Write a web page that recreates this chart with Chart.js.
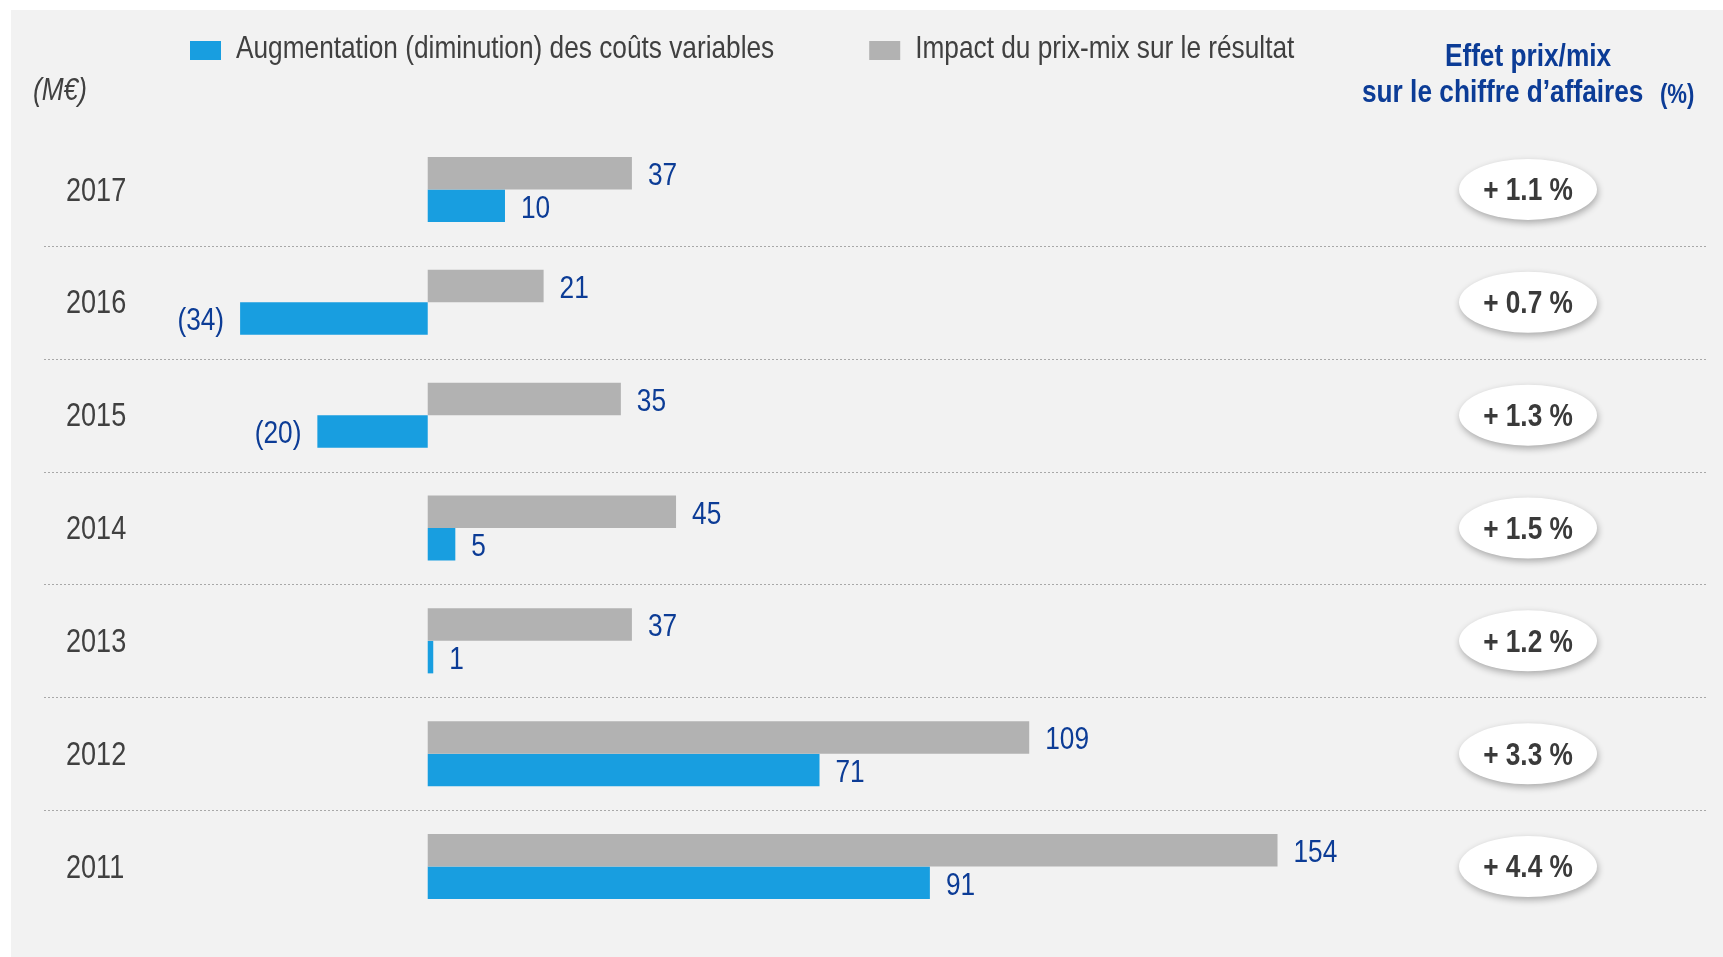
<!DOCTYPE html>
<html>
<head>
<meta charset="utf-8">
<script src="https://cdn.jsdelivr.net/npm/chart.js@4/dist/chart.umd.min.js"></script>
<style>
  body { margin: 0; background: #ffffff; }
  canvas { display: block; }
</style>
</head>
<body>
<canvas id="myChart" width="1723" height="957"></canvas>
<script>
// values (M€)
const years = ['2017', '2016', '2015', '2014', '2013', '2012', '2011'];
const prixMix = [37, 21, 35, 45, 37, 109, 154];
// the 2017 blue bar is drawn longer (~14) than its printed value (10)
const coutsVariables = [14, -34, -20, 5, 1, 71, 91];
const coutsLabels = ['10', '(34)', '(20)', '5', '1', '71', '91'];
const effetPrixMix = [1.1, 0.7, 1.3, 1.5, 1.2, 3.3, 4.4];

// no narrow font installed, so Liberation Sans gets squeezed like Arial Narrow
const FONT = "'Liberation Sans', Arial, sans-serif";
const SX = 0.82;
const NAVY = '#0c3c96';
const DARK = '#404040';

function fmtValue(v) {
    return v < 0 ? '(' + (-v) + ')' : String(v);
}

// draw text squeezed horizontally, returns its drawn width
function squeezeText(ctx, text, x, y, align) {
    ctx.save();
    ctx.translate(x, y);
    ctx.scale(SX, 1);
    ctx.textAlign = align;
    ctx.fillText(text, 0, 0);
    const w = ctx.measureText(text).width * SX;
    ctx.restore();
    return w;
}

const decor = {
    id: 'decor',
    beforeDraw(chart) {
        const ctx = chart.ctx;
        const ys = chart.scales.y;
        ctx.save();
        ctx.fillStyle = '#ffffff';
        ctx.fillRect(0, 0, chart.width, chart.height);
        ctx.fillStyle = '#f2f2f2';
        ctx.fillRect(11, 10, chart.width - 11, chart.height - 10);

        // dotted separators between the years
        ctx.strokeStyle = '#a8a8a8';
        ctx.lineWidth = 1;
        ctx.setLineDash([2, 2]);
        for (let i = 0; i < years.length - 1; i++) {
            const y = Math.round((ys.getPixelForValue(i) + ys.getPixelForValue(i + 1)) / 2) + 0.5;
            ctx.beginPath();
            ctx.moveTo(44, y);
            ctx.lineTo(1706, y);
            ctx.stroke();
        }
        ctx.restore();
    },
    afterDatasetsDraw(chart) {
        const ctx = chart.ctx;
        const ys = chart.scales.y;
        ctx.save();

        // year labels from the category scale
        ctx.textBaseline = 'middle';
        ctx.fillStyle = DARK;
        ctx.font = '33px ' + FONT;
        ys.ticks.forEach(t => {
            squeezeText(ctx, ys.getLabelForValue(t.value), 66, ys.getPixelForValue(t.value) + 2, 'left');
        });

        // value labels
        ctx.fillStyle = NAVY;
        ctx.font = '32px ' + FONT;
        chart.data.datasets.forEach((ds, d) => {
            const meta = chart.getDatasetMeta(d);
            meta.data.forEach((bar, i) => {
                const v = ds.data[i];
                const txt = ds.printed ? ds.printed[i] : fmtValue(v);
                if (v < 0) {
                    squeezeText(ctx, txt, bar.x - 16, bar.y + 3, 'right');
                } else {
                    squeezeText(ctx, txt, bar.x + 16, bar.y + 3, 'left');
                }
            });
        });

        // price/mix effect bubbles
        effetPrixMix.forEach((p, i) => {
            const y = ys.getPixelForValue(i);
            ctx.save();
            ctx.shadowColor = 'rgba(0,0,0,0.3)';
            ctx.shadowBlur = 7;
            ctx.shadowOffsetX = 1;
            ctx.shadowOffsetY = 3;
            ctx.fillStyle = '#ffffff';
            ctx.beginPath();
            ctx.ellipse(1528, y, 69, 30.5, 0, 0, Math.PI * 2);
            ctx.fill();
            ctx.restore();
            ctx.fillStyle = '#3a3a3a';
            ctx.font = 'bold 32px ' + FONT;
            squeezeText(ctx, '+ ' + p.toFixed(1) + ' %', 1528, y + 2, 'center');
        });

        // legend (blue first, then gray)
        ctx.textBaseline = 'alphabetic';
        ctx.font = '32px ' + FONT;
        let x = 190;
        [1, 0].forEach(d => {
            const ds = chart.data.datasets[d];
            ctx.fillStyle = ds.backgroundColor;
            ctx.fillRect(x, 41, 31, 19);
            ctx.fillStyle = DARK;
            const w = squeezeText(ctx, ds.label, x + 46, 58, 'left');
            x += 46 + w + 95;
        });

        // unit
        ctx.font = 'italic 32px ' + FONT;
        ctx.fillStyle = DARK;
        ctx.textBaseline = 'middle';
        squeezeText(ctx, '(M€)', 33, 91, 'left');

        // right header
        ctx.fillStyle = NAVY;
        ctx.textBaseline = 'alphabetic';
        ctx.font = 'bold 32px ' + FONT;
        squeezeText(ctx, 'Effet prix/mix', 1528, 66, 'center');
        squeezeText(ctx, 'sur le chiffre d’affaires', 1362, 102, 'left');
        ctx.font = 'bold 27px ' + FONT;
        squeezeText(ctx, '(%)', 1660, 103, 'left');

        ctx.restore();
    }
};

const ctx = document.getElementById('myChart').getContext('2d');
const myChart = new Chart(ctx, {
    type: 'bar',
    data: {
        labels: years,
        datasets: [
            {
                label: 'Impact du prix-mix sur le résultat',
                data: prixMix,
                backgroundColor: '#b2b2b2',
                categoryPercentage: 0.576,
                barPercentage: 1.0
            },
            {
                label: 'Augmentation (diminution) des coûts variables',
                data: coutsVariables,
                printed: coutsLabels,
                backgroundColor: '#189ee0',
                categoryPercentage: 0.576,
                barPercentage: 1.0
            }
        ]
    },
    options: {
        indexAxis: 'y',
        responsive: false,
        animation: false,
        layout: { padding: { left: 0, top: 133, right: 302, bottom: 34 } },
        plugins: {
            legend: { display: false },
            tooltip: { enabled: false }
        },
        scales: {
            x: { display: false, min: -40, max: 180 },
            y: {
                grid: { display: false, drawTicks: false },
                border: { display: false },
                ticks: { display: false },
                afterFit(scale) { scale.width = 207; }
            }
        }
    },
    plugins: [decor]
});
</script>
</body>
</html>
